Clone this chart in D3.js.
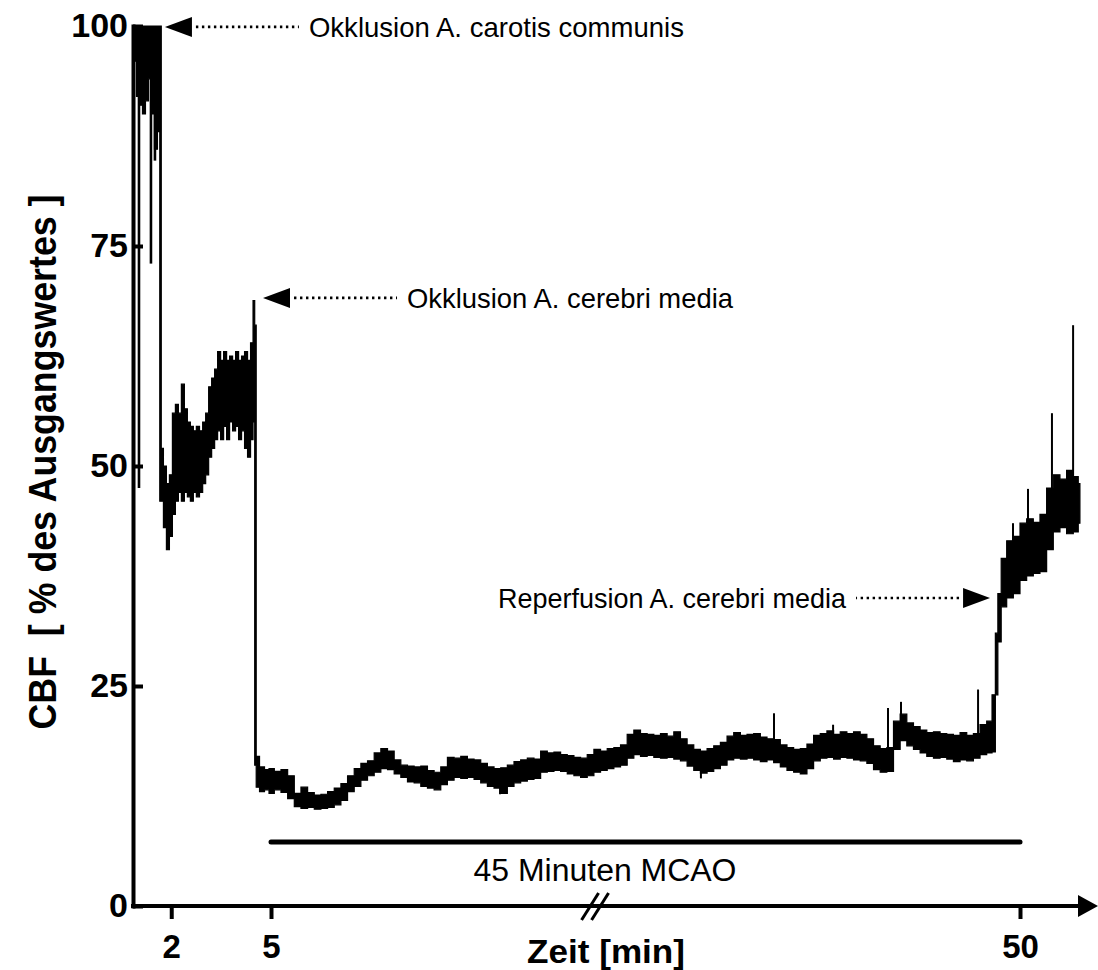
<!DOCTYPE html>
<html><head><meta charset="utf-8">
<script src="https://cdn.jsdelivr.net/npm/d3@7"></script>
<style>
html,body{margin:0;padding:0;background:#fff;}
svg{display:block;}
text{font-family:"Liberation Sans", Arial, Helvetica, sans-serif;fill:#000;}
</style></head><body>
<svg id="chart" width="1098" height="970"></svg>
<script>
// ---- data (time in min, CBF in % of baseline) ----
const times = [0.91,1.00,1.09,1.18,1.27,1.36,1.45,1.54,1.63,1.68,1.72,1.81,1.90,1.99,2.08,2.17,2.26,2.35,2.44,2.53,2.62,2.71,2.80,2.90,2.99,3.08,3.17,3.26,3.35,3.44,3.53,3.62,3.71,3.80,3.89,3.98,4.07,4.16,4.25,4.34,4.43,4.49,4.53,4.58,4.73,4.88,
5.0,5.4,5.8,6.2,6.6,7.0,7.4,7.8,8.2,8.6,9.0,9.4,9.8,10.2,10.6,11.0,11.4,11.8,12.2,12.6,13.0,13.4,13.8,14.2,14.6,15.0,15.4,15.8,16.2,16.6,17.0,17.4,17.8,18.2,18.6,19.0,19.4,19.8,20.2,20.6,21.0,21.4,21.8,22.2,22.6,23.0,23.4,23.8,24.2,24.6,25.0,25.4,25.8,26.2,26.6,27.0,27.4,27.8,28.2,28.6,29.0,29.4,29.8,30.2,30.6,31.0,31.4,31.8,32.2,32.6,33.0,33.4,33.8,34.2,34.6,35.0,35.4,35.8,36.2,36.6,37.0,37.4,37.8,38.2,38.6,39.0,39.4,39.8,40.2,40.6,41.0,41.4,41.8,42.2,42.6,43.0,43.4,43.8,44.2,44.6,45.0,45.4,45.8,46.2,46.6,47.0,47.4,47.8,48.2,48.44,48.6,48.74,49.0,49.4,49.8,50.2,50.6,51.0,51.4,51.8,52.2,52.6,53.0,53.4,53.6];
const lowVals = [96,92,91,90,91.5,94,90,86,88,46,46,43,40.5,42,44.5,46,47,46,47,46.5,46,47,46.5,47,48,49,51,52,53,54,53,54.5,53,55,54,54.5,53,54,52,51,53,55,16,13.5,13,13.2,
12.8,13.2,12.9,12.2,11.3,11.1,11.2,11.0,11.1,11.2,11.5,12.0,13.0,13.6,14.3,14.8,15.2,15.6,15.5,15.0,14.6,14.1,14.0,13.6,13.4,13.2,13.8,14.3,14.6,14.5,14.6,14.4,14.0,13.6,13.4,12.8,13.6,14.0,14.2,14.4,14.5,15.2,15.3,15.4,15.3,15.0,14.8,14.6,14.8,15.2,15.4,15.6,15.8,16.0,16.8,17.2,17.0,17.1,16.9,16.8,16.9,16.7,16.5,15.9,15.4,15.1,15.3,15.6,16.0,16.6,16.8,16.7,16.8,16.6,16.4,16.6,16.3,15.8,15.4,15.2,15.0,15.6,16.5,16.8,16.9,16.7,16.9,16.8,16.6,16.5,16.2,15.5,15.2,15.3,17.8,18.8,18.2,17.8,17.4,17.0,16.8,16.9,16.7,16.4,16.6,16.5,16.8,17.2,17.4,17.5,24,30,34.0,35.0,35.5,37.0,37.5,37.8,38.0,40.5,42.5,43.0,42.3,42.5,43.5];
const highVals = [100,100,100,100,100,100,100,100,100,100,52,50,48,49,56,57,56,59.3,56.5,55,54.5,54,54.5,54,55,56,59,60,61,63,62,63,62,62.5,62,63,62,62.5,63,62,64,68.8,66,17,15.8,15.5,
15.6,15.3,15.5,14.8,12.8,13.5,12.9,12.6,12.7,13.0,13.4,13.9,14.8,15.6,16.2,16.5,17.4,17.9,17.6,16.6,16.0,15.9,15.8,15.9,15.4,15.2,15.8,16.9,16.8,17.0,16.7,16.6,16.2,15.8,15.6,15.7,16.0,16.4,16.6,16.8,16.7,17.6,17.4,17.5,17.2,17.1,16.9,16.8,17.2,17.8,17.6,17.9,18.0,18.3,19.5,20.0,19.6,19.5,19.4,19.6,19.3,19.8,19.0,18.3,17.8,17.6,17.9,18.2,18.6,19.3,19.7,19.4,19.5,19.6,19.2,19.0,18.9,18.3,18.0,17.8,17.9,18.4,19.4,19.6,19.9,19.5,19.8,19.6,19.8,19.5,19.0,18.2,17.9,18.0,21.0,21.8,20.8,20.4,20.0,19.7,19.8,19.6,19.5,19.4,19.7,19.4,19.6,20.6,21.0,24,31,35.5,39.5,41.5,42.0,43.5,44.0,43.6,44.5,47.5,49.0,48.5,49.5,48.8,48.0];
// isolated spikes (time, peak value)
const spikeTimes = [1.03,1.39,1.51,18.76,30.83,35.22,38.77,42.07,42.85,47.48,49.58,50.48,51.92,53.19];
const spikeVals  = [47.5,73,84.7,12.7,14.5,21.9,20.6,22.5,23.2,24.6,43.5,47.4,56,66];
const xTickVals = [2, 5, 50];
const yTickVals = [0, 25, 50, 75, 100];
const mcaoStart = 5, mcaoEnd = 50, breakTime = 24.5;
const annTexts = ["Okklusion A. carotis communis", "Okklusion A. cerebri media", "Reperfusion A. cerebri media"];
const annTimes = [1.81, 4.76, 48.2];
const annVals  = [99.9, 69.1, 35];
const annDirs  = ["left", "left", "right"];

// ---- layout ----
const svg = d3.select("#chart");
const x = d3.scaleLinear().domain([0.85, 5, 50]).range([133, 271, 1020]);
const y = d3.scaleLinear().domain([0, 100]).range([906, 26]);
const FONT = '"Liberation Sans", Arial, Helvetica, sans-serif';

const trace = times.map((t, i) => ({t, lo: lowVals[i], hi: highVals[i]}));

// trace band
svg.append("path")
  .datum(trace)
  .attr("d", d3.area().x(d => x(d.t)).y0(d => y(d.lo)).y1(d => y(d.hi)).curve(d3.curveStep))
  .attr("fill", "#000").attr("stroke", "#000").attr("stroke-width", 1.2);

// spikes
function baseAt(t) {
  let best = 0;
  for (let i = 1; i < trace.length; i++) if (Math.abs(trace[i].t - t) < Math.abs(trace[best].t - t)) best = i;
  return (trace[best].lo + trace[best].hi) / 2;
}
svg.append("g").selectAll("line")
  .data(spikeTimes.map((t, i) => ({t, v: spikeVals[i]})))
  .join("line")
  .attr("x1", d => x(d.t)).attr("x2", d => x(d.t))
  .attr("y1", d => y(baseAt(d.t))).attr("y2", d => y(d.v))
  .attr("stroke", "#000").attr("stroke-width", d => d.t < 2 ? 2.6 : 2);

// y axis
const gy = svg.append("g").attr("transform", "translate(133,0)")
  .call(d3.axisLeft(y).tickValues(yTickVals).tickSize(-10).tickSizeOuter(0).tickPadding(5));
gy.select(".domain").attr("stroke-width", 4).attr("stroke-linecap", "square");
gy.selectAll(".tick line").attr("stroke-width", 4);
gy.selectAll(".tick text").attr("font-size", 34).attr("font-weight", "bold").attr("font-family", FONT).attr("fill", "#000");

// x axis
const gx = svg.append("g").attr("transform", "translate(0,906)")
  .call(d3.axisBottom(x).tickValues(xTickVals).tickSize(13).tickPadding(16).tickFormat(d3.format("d")));
gx.select(".domain").remove();
gx.selectAll(".tick line").attr("stroke-width", 4);
gx.selectAll(".tick text").attr("font-size", 33).attr("font-weight", "bold").attr("font-family", FONT).attr("fill", "#000");
svg.append("line").attr("x1", 131).attr("x2", 1082).attr("y1", 906).attr("y2", 906)
  .attr("stroke", "#000").attr("stroke-width", 4);
svg.append("path").attr("d", "M1078,895 L1098,906 L1078,917 Z").attr("fill", "#000");

// axis break
const bx = x(breakTime);
[-14, -4].forEach(a => {
  svg.append("line").attr("x1", bx + a).attr("y1", 920).attr("x2", bx + a + 17).attr("y2", 893)
    .attr("stroke", "#000").attr("stroke-width", 3);
});

// MCAO bar
svg.append("line").attr("x1", x(mcaoStart)).attr("x2", x(mcaoEnd)).attr("y1", 842).attr("y2", 842)
  .attr("stroke", "#000").attr("stroke-width", 5).attr("stroke-linecap", "round");
svg.append("text").attr("x", 605).attr("y", 881).attr("text-anchor", "middle")
  .attr("font-size", 31).attr("textLength", 263).attr("lengthAdjust", "spacingAndGlyphs")
  .text("45 Minuten MCAO");

// axis titles
svg.append("text").attr("x", 606).attr("y", 963).attr("text-anchor", "middle")
  .attr("font-size", 33).attr("font-weight", "bold").attr("textLength", 158).attr("lengthAdjust", "spacingAndGlyphs")
  .text("Zeit [min]");
svg.append("text").attr("transform", "translate(56,462) rotate(-90)").attr("text-anchor", "middle")
  .attr("font-size", 38).attr("font-weight", "bold").attr("textLength", 535).attr("lengthAdjust", "spacingAndGlyphs")
  .style("white-space", "pre")
  .text("CBF  [ % des Ausgangswertes ]");

// annotations
const annLens = [375, 326, 348];
annTexts.forEach((txt, i) => {
  const tx = x(annTimes[i]), ty = y(annVals[i]);
  const s = annDirs[i] === "left" ? 1 : -1;
  svg.append("path").attr("d", `M${tx},${ty} L${tx + s * 27},${ty - 10} L${tx + s * 27},${ty + 10} Z`).attr("fill", "#000");
  svg.append("line").attr("x1", tx + s * 31).attr("x2", tx + s * 134).attr("y1", ty).attr("y2", ty)
    .attr("stroke", "#000").attr("stroke-width", 2.6).attr("stroke-dasharray", "2.4,3.6");
  svg.append("text").attr("x", tx + s * 144).attr("y", ty + 10)
    .attr("text-anchor", s === 1 ? "start" : "end")
    .attr("font-size", 28).attr("textLength", annLens[i]).attr("lengthAdjust", "spacingAndGlyphs")
    .text(txt);
});
</script>
</body></html>
